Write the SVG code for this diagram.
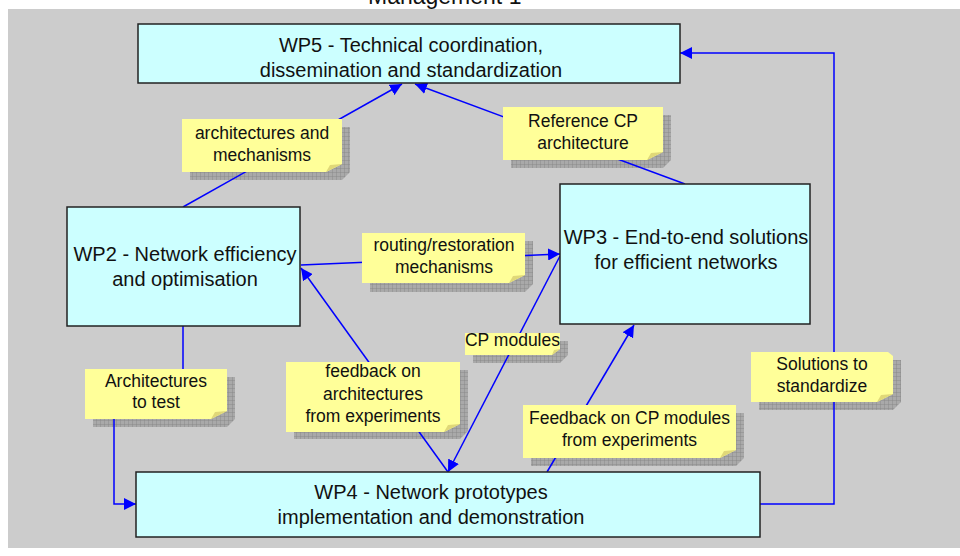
<svg xmlns="http://www.w3.org/2000/svg" width="960" height="556" viewBox="0 0 960 556">
<style>
.box{fill:#ccffff;stroke:#222;stroke-width:1.5}
.bt{font-family:"Liberation Sans",Arial,sans-serif;font-size:20px;fill:#111;text-anchor:middle}
.nt{font-family:"Liberation Sans",Arial,sans-serif;font-size:17.5px;fill:#111;text-anchor:middle}
.note{fill:#ffff99}
.fold{fill:#e0d878}
.sh{fill:url(#grid)}
.con{fill:none;stroke:#0000ff;stroke-width:1.5}
</style>
<defs>
<pattern id="grid" patternUnits="userSpaceOnUse" width="4" height="4">
<rect width="4" height="4" fill="#a9a9a9"/>
<path d="M0,0H4M0,0V4" stroke="#858585" stroke-width="0.8"/>
</pattern>
<marker id="arr" viewBox="0 0 12 12" refX="12" refY="6" markerWidth="12" markerHeight="12" markerUnits="userSpaceOnUse" orient="auto">
<path d="M0,0 L12,6 L0,12 Z" fill="#0000ff"/>
</marker>
</defs>
<rect x="0" y="0" width="960" height="556" fill="#ffffff"/>
<rect x="8" y="9" width="952" height="539" fill="#cccccc"/>
<text x="368" y="4" font-family="Liberation Sans, Arial, sans-serif" font-size="23" fill="#111">Management 1</text>

<g id="label-shadows">
<path class="sh" d="M190,127H350V172L342,180H190Z"/>
<path class="sh" d="M511,115H671V160L663,168H511Z"/>
<path class="sh" d="M370,241H533V284L525,292H370Z"/>
<path class="sh" d="M93,377H235V419L227,427H93Z"/>
<path class="sh" d="M294,370H468V431L460,439H294Z"/>
<path class="sh" d="M473,341H568V355L560,363H473Z"/>
<path class="sh" d="M531,413H744V458L736,466H531Z"/>
<path class="sh" d="M759,360H901V402L893,410H759Z"/>
</g>

<g id="connectors">
<path class="con" d="M183,207L402,84" marker-end="url(#arr)"/>
<path class="con" d="M685,184L415,84" marker-end="url(#arr)"/>
<path class="con" d="M760,504H834V53H680" marker-end="url(#arr)"/>
<path class="con" d="M301,265L560,254" marker-end="url(#arr)"/>
<path class="con" d="M448,472L301,268" marker-end="url(#arr)"/>
<path class="con" d="M560,256L448,472" marker-end="url(#arr)"/>
<path class="con" d="M547,472L634,325" marker-end="url(#arr)"/>
<path class="con" d="M183,326V395H114V504H136" marker-end="url(#arr)"/>
</g>

<g id="wp5">
<rect class="box" x="138" y="24" width="542" height="59"/>
<text class="bt" x="411" y="52">WP5 - Technical coordination,</text>
<text class="bt" x="411" y="77">dissemination and standardization</text>
</g>
<g id="wp2">
<rect class="box" x="67" y="207" width="233" height="119"/>
<text class="bt" x="185" y="261">WP2 - Network efficiency</text>
<text class="bt" x="185" y="286">and optimisation</text>
</g>
<g id="wp3">
<rect class="box" x="560" y="184" width="250" height="140"/>
<text class="bt" x="686" y="244">WP3 - End-to-end solutions</text>
<text class="bt" x="686" y="269">for efficient networks</text>
</g>
<g id="wp4">
<rect class="box" x="136" y="472" width="624" height="65"/>
<text class="bt" x="431" y="499">WP4 - Network prototypes</text>
<text class="bt" x="431" y="524">implementation and demonstration</text>
</g>

<g id="note-arch-mech">
<path class="note" d="M182,119H342V164L326,172H182Z"/>
<path class="fold" d="M342,164L326,172L330,165Z"/>
<text class="nt" x="262" y="139">architectures and</text>
<text class="nt" x="262" y="161">mechanisms</text>
</g>
<g id="note-ref-cp">
<path class="note" d="M503,107H663V152L647,160H503Z"/>
<path class="fold" d="M663,152L647,160L651,153Z"/>
<text class="nt" x="583" y="127">Reference CP</text>
<text class="nt" x="583" y="149">architecture</text>
</g>
<g id="note-routing">
<path class="note" d="M362,233H525V275L509,283H362Z"/>
<path class="fold" d="M525,275L509,283L513,276Z"/>
<text class="nt" x="444" y="251">routing/restoration</text>
<text class="nt" x="444" y="273">mechanisms</text>
</g>
<g id="note-arch-test">
<path class="note" d="M85,369H227V411L211,419H85Z"/>
<path class="fold" d="M227,411L211,419L215,412Z"/>
<text class="nt" x="156" y="387">Architectures</text>
<text class="nt" x="156" y="408">to test</text>
</g>
<g id="note-feedback-arch">
<path class="note" d="M286,362H460V424L444,432H286Z"/>
<path class="fold" d="M460,424L444,432L448,425Z"/>
<text class="nt" x="373" y="377">feedback on</text>
<text class="nt" x="373" y="400">architectures</text>
<text class="nt" x="373" y="422">from experiments</text>
</g>
<g id="note-cp-modules">
<path class="note" d="M465,333H560V349L552,355H465Z"/>
<path class="fold" d="M560,349L552,355L554,350Z"/>
<text class="nt" x="512.5" y="346">CP modules</text>
</g>
<g id="note-feedback-cp">
<path class="note" d="M523,405H736V450L720,458H523Z"/>
<path class="fold" d="M736,450L720,458L724,451Z"/>
<text class="nt" x="629.5" y="424">Feedback on CP modules</text>
<text class="nt" x="629.5" y="446">from experiments</text>
</g>
<g id="note-solutions">
<path class="note" d="M751,352H888L893,356V394L877,402H751Z"/>
<path class="fold" d="M893,394L877,402L881,395Z"/>
<text class="nt" x="822" y="370">Solutions to</text>
<text class="nt" x="822" y="392">standardize</text>
</g>
</svg>
